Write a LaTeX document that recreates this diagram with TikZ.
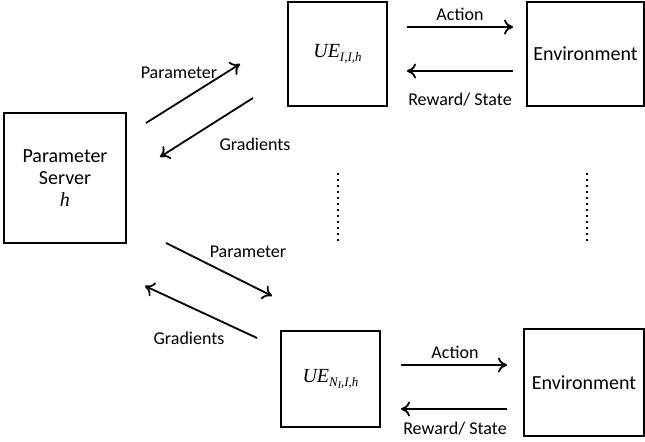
\documentclass[tikz,border=0pt]{standalone}
\usepackage{fontspec}
\setmainfont{Carlito}
\newfontfamily\serifit{Liberation Serif}
\usetikzlibrary{arrows.meta}

\newcommand{\uelabel}[1]{{\serifit\itshape UE\raisebox{-0.5ex}{\fontsize{6.5}{6.5}\selectfont #1}}}

\begin{document}
\begin{tikzpicture}[x=0.5pt,y=-0.5pt,>={To[length=4.5pt,width=7.5pt]}]

    \tikzstyle{box} = [draw,line width=0.6pt,inner sep=0pt,align=center,font=\fontsize{10}{11}\selectfont]
    \tikzstyle{tag} = [inner sep=0pt,font=\fontsize{9}{11}\selectfont]
    \tikzstyle{flow} = [->,line width=0.9pt]
    \tikzstyle{more} = [line width=1.2pt,dash pattern=on 1.2pt off 1.8pt]

  \useasboundingbox (0,0) rectangle (645,442);

  % boxes
  \node[box,minimum width=61pt,minimum height=65pt] (server) at (65,178)
    {Parameter\\Server\\{\serifit\itshape h}};
  \node[box,minimum width=49.5pt,minimum height=52pt] (ue1) at (337.5,54) {\uelabel{I,I,h}};
  \node[box,minimum width=58.5pt,minimum height=52pt] (env1) at (585.5,54) {Environment};
  \node[box,minimum width=49.5pt,minimum height=48pt] (ue2) at (330.5,379)
    {\uelabel{N\raisebox{-0.3ex}{\fontsize{5}{5}\selectfont I},I,h}};
  \node[box,minimum width=60pt,minimum height=53.5pt] (env2) at (584,382.5) {Environment};

  % arrow ends
  \coordinate (p1s) at (146,123);  \coordinate (p1e) at (240,64);
  \coordinate (g1s) at (253,98);   \coordinate (g1e) at (160,157);
  \coordinate (p2s) at (166,243);  \coordinate (p2e) at (272,296);
  \coordinate (g2s) at (257,338);  \coordinate (g2e) at (145,286);
  \coordinate (a1s) at (407,27);   \coordinate (a1e) at (513,27);
  \coordinate (r1s) at (513,71);   \coordinate (r1e) at (407,71);
  \coordinate (a2s) at (401,365);  \coordinate (a2e) at (507,365);
  \coordinate (r2s) at (507,409);  \coordinate (r2e) at (401,409);
  \coordinate (d1s) at (338,173);  \coordinate (d1e) at (338,241);
  \coordinate (d2s) at (587,173);  \coordinate (d2e) at (587,241);

  \path[flow]
    (p1s) edge (p1e)
    (g1s) edge (g1e)
    (p2s) edge (p2e)
    (g2s) edge (g2e)
    (a1s) edge (a1e)
    (r1s) edge (r1e)
    (a2s) edge (a2e)
    (r2s) edge (r2e);

  \draw[more] (d1s) -- (d1e);
  \draw[more] (d2s) -- (d2e);

  % labels
  \node[tag] (par1) at (179,73) {Parameter};
  \node[tag] (grad1) at (255,144) {Gradients};
  \node[tag] (par2) at (248,252) {Parameter};
  \node[tag] (grad2) at (189,338) {Gradients};
  \node[tag] (act1) at (460,14) {Action};
  \node[tag] (rew1) at (460,100) {Reward/ State};
  \node[tag] (act2) at (455,352) {Action};
  \node[tag] (rew2) at (455,429) {Reward/ State};

\end{tikzpicture}
\end{document}
